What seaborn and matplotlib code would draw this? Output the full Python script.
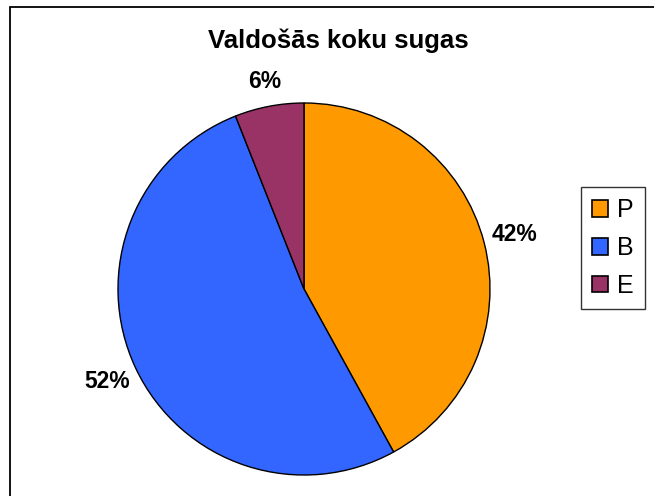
import matplotlib
matplotlib.use("Agg")
import matplotlib.pyplot as plt
from matplotlib.patches import Rectangle
import seaborn as sns

### Data ###

species = ["P", "B", "E"]
shares = [42, 52, 6]
colors = ["#FF9900", "#3366FF", "#993366"]

### Style ###

sns.set_theme(style="white")
plt.rcParams["font.family"] = ["Liberation Sans", "DejaVu Sans"]
plt.rcParams["text.color"] = "black"

fig = plt.figure(figsize=(6.54, 4.96), dpi=100)

# outer chart frame (runs off the right and bottom edge)
fig.patches.append(Rectangle((10 / 654, -0.1), 1.2, 1.1 - 7 / 496,
                             transform=fig.transFigure, fill=False,
                             edgecolor="black", linewidth=1.3))

ax = fig.add_axes([(304 - 186) / 654, (207 - 186) / 496, 372 / 654, 372 / 496])

wedges, texts, autotexts = ax.pie(
    shares,
    colors=colors,
    startangle=90,
    counterclock=False,
    autopct="%1.0f%%",
    pctdistance=1.17,
    wedgeprops={"edgecolor": "black", "linewidth": 1.0},
)

for t in autotexts:
    t.set_fontsize(16.5)
    t.set_fontweight("bold")
    t.set_color("black")

# small label sits a bit closer to the rim
x, y = autotexts[2].get_position()
autotexts[2].set_position((x * 1.135 / 1.17, y * 1.135 / 1.17))

ax.set_xlim(-1.0, 1.0)
ax.set_ylim(-1.0, 1.0)
ax.set_aspect("equal")

fig.text(338 / 654, 1 - 41 / 496, "Valdošās koku sugas", ha="center", va="center",
         fontsize=18.5, fontweight="bold")

leg = fig.legend(wedges, species, loc="center", bbox_to_anchor=(613 / 654, 1 - 248 / 496),
                 frameon=True, fancybox=False, fontsize=18, handlelength=0.65,
                 handleheight=0.65, handletextpad=0.35, labelspacing=0.55,
                 borderpad=0.45, edgecolor="black")
leg.get_frame().set_linewidth(1.0)
for h in leg.legend_handles:
    h.set_edgecolor("black")
    h.set_linewidth(1.2)

fig.savefig("out.png", dpi=100)
